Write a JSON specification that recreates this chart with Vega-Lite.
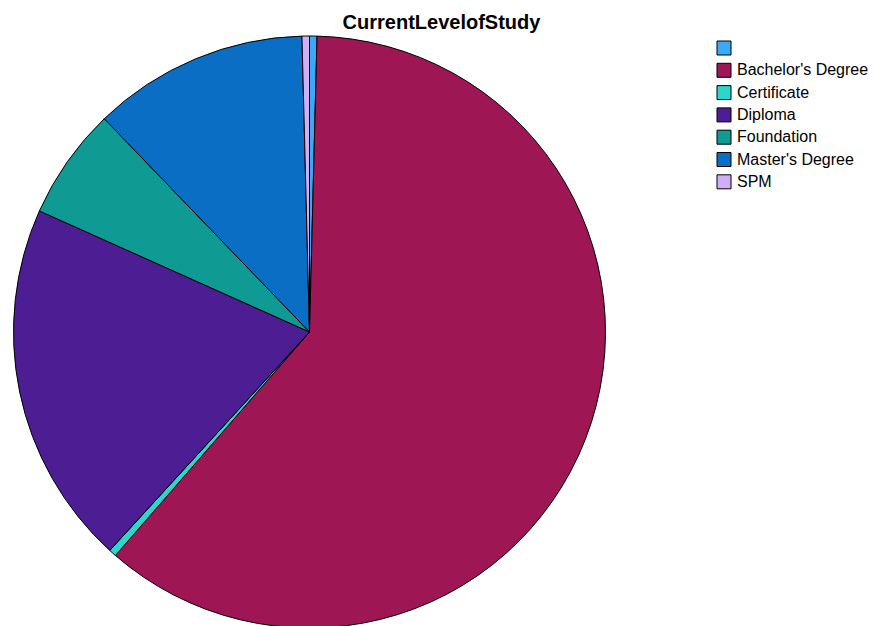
{
  "$schema": "https://vega.github.io/schema/vega-lite/v6.json",
  "width": 619,
  "height": 592,
  "autosize": "none",
  "padding": {"left": 0, "top": 36, "right": 256, "bottom": 0},
  "background": "white",
  "config": {
    "view": {"stroke": null},
    "font": "Liberation Sans"
  },
  "title": {
    "text": "CurrentLevelofStudy",
    "font": "Liberation Sans",
    "fontSize": 20,
    "fontWeight": "bold",
    "color": "#000000",
    "anchor": "middle",
    "dx": 132,
    "offset": 1
  },
  "data": {
    "values": [
      {"Level": "", "Count": 1},
      {"Level": "Bachelor's Degree", "Count": 150},
      {"Level": "Certificate", "Count": 1},
      {"Level": "Diploma", "Count": 49},
      {"Level": "Foundation", "Count": 15},
      {"Level": "Master's Degree", "Count": 29},
      {"Level": "SPM", "Count": 1}
    ]
  },
  "mark": {"type": "arc", "radius": 296, "stroke": "#000000", "strokeWidth": 1},
  "encoding": {
    "theta": {"field": "Count", "type": "quantitative", "stack": true},
    "order": {"field": "Level", "type": "nominal", "sort": "ascending"},
    "color": {
      "field": "Level",
      "type": "nominal",
      "scale": {
        "domain": ["", "Bachelor's Degree", "Certificate", "Diploma", "Foundation", "Master's Degree", "SPM"],
        "range": ["#3AA9F7", "#9E1653", "#2DD6CB", "#4C1D93", "#0F9A93", "#0A6FC4", "#D2AEF8"]
      },
      "legend": {
        "title": null,
        "orient": "none",
        "legendX": 716,
        "legendY": 4,
        "symbolType": "square",
        "symbolSize": 196,
        "symbolStrokeColor": "#000000",
        "symbolStrokeWidth": 1,
        "symbolOpacity": 1,
        "labelFont": "Liberation Sans",
        "labelFontSize": 16,
        "labelColor": "#000000",
        "labelOffset": 5,
        "rowPadding": 4.3
      }
    }
  }
}
